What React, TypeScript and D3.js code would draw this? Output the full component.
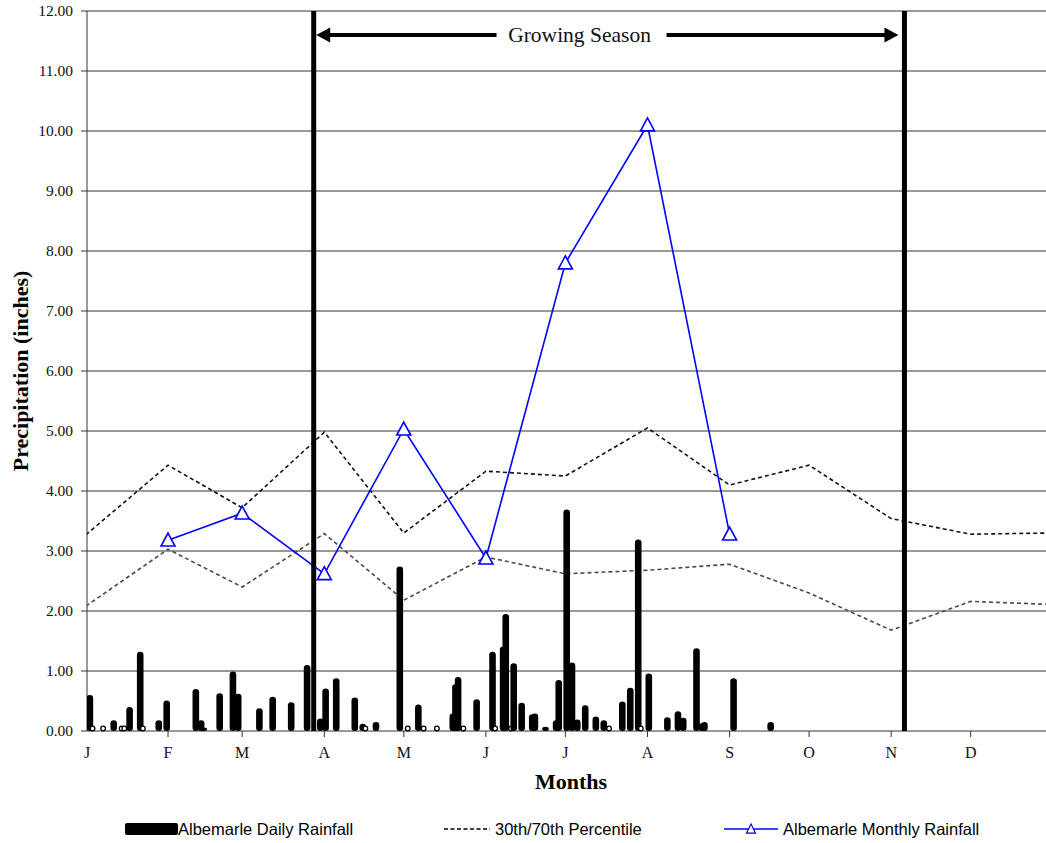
import React from 'react';
import * as d3 from 'd3';

const W = 1046;
const H = 843;
const PLOT = { left: 87, right: 1046, top: 11, bottom: 731 };
const DAY = 864e5;

const monthLabels = ["J", "F", "M", "A", "M", "J", "J", "A", "S", "O", "N", "D"];
const monthStarts = ["2009-01-01", "2009-02-01", "2009-03-01", "2009-04-01", "2009-05-01", "2009-06-01",
  "2009-07-01", "2009-08-01", "2009-09-01", "2009-10-01", "2009-11-01", "2009-12-01"];
const yTicks = [0, 1, 2, 3, 4, 5, 6, 7, 8, 9, 10, 11, 12];

const dailyDates = [
  "2009-01-02", "2009-01-03", "2009-01-07", "2009-01-11", "2009-01-14", "2009-01-15", "2009-01-17", "2009-01-21",
  "2009-01-22", "2009-01-28", "2009-01-31", "2009-02-11", "2009-02-13", "2009-02-14", "2009-02-20", "2009-02-25",
  "2009-02-27", "2009-03-07", "2009-03-12", "2009-03-19", "2009-03-25", "2009-03-30", "2009-04-01", "2009-04-05",
  "2009-04-12", "2009-04-15", "2009-04-16", "2009-04-20", "2009-04-29", "2009-05-02", "2009-05-06", "2009-05-08",
  "2009-05-13", "2009-05-19", "2009-05-20", "2009-05-21", "2009-05-23", "2009-05-28", "2009-06-03", "2009-06-04",
  "2009-06-07", "2009-06-08", "2009-06-10", "2009-06-11", "2009-06-14", "2009-06-18", "2009-06-19", "2009-06-23",
  "2009-06-27", "2009-06-28", "2009-07-01", "2009-07-03", "2009-07-05", "2009-07-08", "2009-07-12", "2009-07-15",
  "2009-07-17", "2009-07-22", "2009-07-25", "2009-07-28", "2009-07-29", "2009-08-01", "2009-08-08", "2009-08-12",
  "2009-08-14", "2009-08-19", "2009-08-21", "2009-08-22", "2009-09-02", "2009-09-16"];
const dailyValues = [
  0.60, 0.02, 0.03, 0.18, 0.02, 0.03, 0.40, 1.32,
  0.05, 0.18, 0.51, 0.70, 0.18, 0.06, 0.63, 0.99,
  0.62, 0.38, 0.57, 0.48, 1.10, 0.21, 0.71, 0.88,
  0.56, 0.12, 0.04, 0.15, 2.74, 0.03, 0.44, 0.03,
  0.03, 0.29, 0.78, 0.90, 0.03, 0.53, 1.32, 0.05,
  1.41, 1.95, 0.03, 1.13, 0.47, 0.28, 0.29, 0.07,
  0.18, 0.85, 3.69, 1.14, 0.19, 0.43, 0.24, 0.18,
  0.03, 0.49, 0.72, 3.19, 0.05, 0.96, 0.23, 0.33,
  0.22, 1.38, 0.13, 0.15, 0.88, 0.15];

const pctDates = [...monthStarts, "2009-12-31"];
const pct70 = [3.27, 4.43, 3.72, 4.98, 3.30, 4.33, 4.25, 5.05, 4.10, 4.43, 3.54, 3.28, 3.30];
const pct30 = [2.08, 3.03, 2.40, 3.29, 2.18, 2.90, 2.62, 2.68, 2.78, 2.30, 1.68, 2.16, 2.11];

const monthlyDates = ["2009-02-01", "2009-03-01", "2009-04-01", "2009-05-01", "2009-06-01", "2009-07-01", "2009-08-01", "2009-09-01"];
const monthlyValues = [3.18, 3.63, 2.62, 5.03, 2.88, 7.80, 10.10, 3.28];

const seasonDates = ["2009-03-28", "2009-11-06"];

const parse = d3.utcParse("%Y-%m-%d");
const SERIF = "'Liberation Serif', 'Times New Roman', serif";
const SANS = "'Liberation Sans', Arial, sans-serif";

export default function App() {
  const t0 = Date.UTC(2009, 0, 1);
  const x = d3.scaleUtc()
    .domain([new Date(t0 + 0.415 * DAY), new Date(t0 + 362.44 * DAY)])
    .range([PLOT.left, PLOT.right]);
  const y = d3.scaleLinear().domain([0, 12]).range([PLOT.bottom, PLOT.top]);

  const xd = (s: string) => x(parse(s) as Date);
  const xMid = (s: string) => x(new Date((parse(s) as Date).getTime() + DAY / 2));

  const lineGen = d3.line<[number, number]>().x(d => d[0]).y(d => d[1]);
  const p70 = lineGen(pctDates.map((d, i) => [xd(d), y(pct70[i])]));
  const p30 = lineGen(pctDates.map((d, i) => [xd(d), y(pct30[i])]));
  const monthly = lineGen(monthlyDates.map((d, i) => [xd(d), y(monthlyValues[i])]));

  const tri = (cx: number, cy: number, w: number, h: number) =>
    `M${cx},${cy - h * 0.55} L${cx + w / 2},${cy + h * 0.45} L${cx - w / 2},${cy + h * 0.45} Z`;

  const sx0 = xd(seasonDates[0]);
  const sx1 = xd(seasonDates[1]);
  const arrowY = 35;
  const textX = sx0 + 0.45 * (sx1 - sx0);
  const gapHalf = 83;
  const headL = 14;
  const headH = 7.5;
  const aL = sx0 + 2.5;
  const aR = sx1 - 6;

  return (
    <svg width={W} height={H} style={{ position: 'absolute', left: 0, top: 0, background: '#fff' }}>
      <defs>
        <clipPath id="plotClip">
          <rect x={PLOT.left} y={PLOT.top - 2} width={PLOT.right - PLOT.left} height={PLOT.bottom - PLOT.top + 4} />
        </clipPath>
      </defs>
      {/* gridlines */}
      {yTicks.map(v => (
        <line key={'g' + v} x1={PLOT.left - 6} x2={PLOT.right} y1={y(v)} y2={y(v)} stroke="#333" strokeWidth={1} />
      ))}
      {/* y axis */}
      <line x1={PLOT.left} x2={PLOT.left} y1={PLOT.top} y2={PLOT.bottom} stroke="#333" strokeWidth={1} />
      {yTicks.map(v => (
        <text key={'yl' + v} x={73} y={y(v) + 5} textAnchor="end" fontFamily={SERIF} fontSize={15.5} fill="#111">
          {v.toFixed(2)}
        </text>
      ))}
      {/* x ticks */}
      {monthStarts.slice(1).map(d => (
        <line key={'xt' + d} x1={xd(d)} x2={xd(d)} y1={PLOT.bottom} y2={PLOT.bottom + 6} stroke="#333" strokeWidth={1} />
      ))}
      {monthStarts.map((d, i) => (
        <text key={'xl' + d} x={Math.max(xd(d), PLOT.left)} y={758} textAnchor="middle" fontFamily={SERIF} fontSize={16} fill="#111">
          {monthLabels[i]}
        </text>
      ))}
      <g clipPath="url(#plotClip)">
        <path d={p70 || ''} fill="none" stroke="#111" strokeWidth={1.6} strokeDasharray="4 3" />
        <path d={p30 || ''} fill="none" stroke="#4a4a4a" strokeWidth={1.6} strokeDasharray="4 3" />
        {/* daily bars */}
        {dailyDates.map((d, i) => {
          const cx = xMid(d);
          const v = dailyValues[i];
          if (v < 0.06) {
            return <circle key={'b' + i} cx={cx} cy={y(0) - 2.5} r={2.3} fill="#fff" stroke="#000" strokeWidth={1.3} />;
          }
          const top = y(v);
          return (
            <rect key={'b' + i} x={cx - 3.3} y={top} width={6.6} height={y(0) - top} rx={3.3} ry={3.3} fill="#000" />
          );
        })}
        {/* monthly line */}
        <path d={monthly || ''} fill="none" stroke="#0000ff" strokeWidth={1.6} />
        {monthlyDates.map((d, i) => (
          <path key={'m' + i} d={tri(xd(d), y(monthlyValues[i]), 14, 13)} fill="#fff" stroke="#0000ff" strokeWidth={1.6} />
        ))}
      </g>
      {/* growing season lines */}
      {[sx0, sx1].map((sx, i) => (
        <line key={'s' + i} x1={sx} x2={sx} y1={PLOT.top} y2={PLOT.bottom} stroke="#000" strokeWidth={5} />
      ))}
      {/* arrow */}
      <line x1={aL + headL - 1} x2={textX - gapHalf} y1={arrowY} y2={arrowY} stroke="#000" strokeWidth={4} />
      <line x1={textX + gapHalf + 4} x2={aR - headL + 1} y1={arrowY} y2={arrowY} stroke="#000" strokeWidth={4} />
      <path d={`M${aL},${arrowY} L${aL + headL},${arrowY - headH} L${aL + headL},${arrowY + headH} Z`} fill="#000" />
      <path d={`M${aR},${arrowY} L${aR - headL},${arrowY - headH} L${aR - headL},${arrowY + headH} Z`} fill="#000" />
      <text x={textX} y={arrowY + 7} textAnchor="middle" fontFamily={SERIF} fontSize={21.5} fill="#111">Growing Season</text>
      {/* axis titles */}
      <text transform={`translate(28,${(PLOT.top + PLOT.bottom) / 2}) rotate(-90)`} textAnchor="middle"
        fontFamily={SERIF} fontSize={22} fontWeight="bold" fill="#000">Precipitation (inches)</text>
      <text x={571} y={789} textAnchor="middle" fontFamily={SERIF} fontSize={22} fontWeight="bold" fill="#000">Months</text>
      {/* legend */}
      <rect x={125} y={823} width={53} height={12} rx={2} fill="#000" />
      <text x={178} y={835} fontFamily={SANS} fontSize={16.5} fill="#000">Albemarle Daily Rainfall</text>
      <line x1={444} x2={490} y1={829} y2={829} stroke="#000" strokeWidth={1.5} strokeDasharray="4 2.5" />
      <text x={495} y={835} fontFamily={SANS} fontSize={16.5} fill="#000">30th/70th Percentile</text>
      <line x1={724} x2={778} y1={829} y2={829} stroke="#0000ff" strokeWidth={1.5} />
      <path d={tri(751, 829, 9, 9)} fill="#fff" stroke="#0000ff" strokeWidth={1.2} />
      <text x={783} y={835} fontFamily={SANS} fontSize={16.5} fill="#000">Albemarle Monthly Rainfall</text>
    </svg>
  );
}
